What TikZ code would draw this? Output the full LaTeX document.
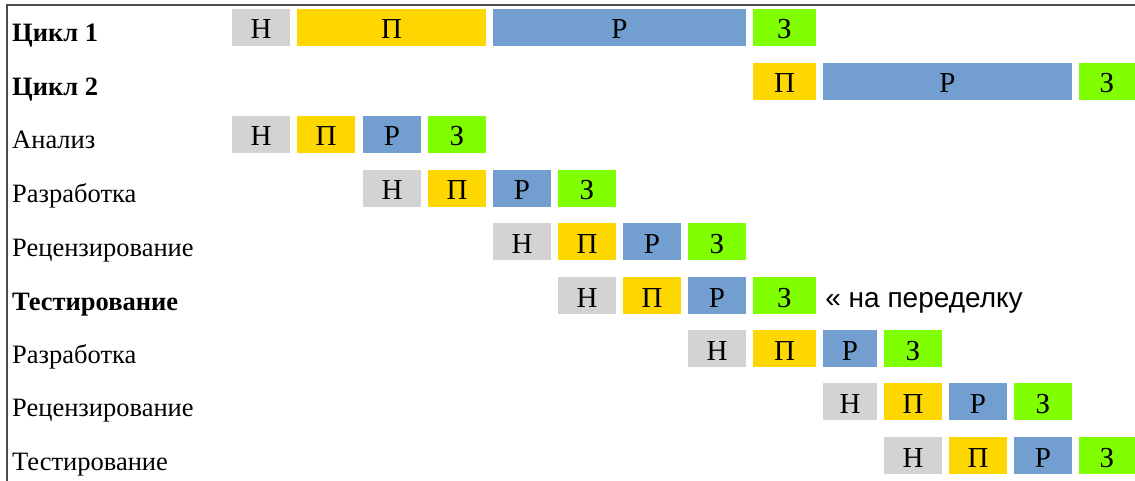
\documentclass[tikz,border=0pt]{standalone}
\usepackage{fontspec}
\setmainfont{Liberation Serif}
\newfontfamily\notefont{Liberation Sans}
\usepackage{xcolor}
\definecolor{ngray}{HTML}{D3D3D3}
\definecolor{pyellow}{HTML}{FFD700}
\definecolor{rblue}{HTML}{729FCF}
\definecolor{zgreen}{HTML}{7FFF00}
\tikzset{
  stage/.style={inner sep=0pt, minimum height=37pt, text height=23pt, text depth=0pt,
    font=\fontsize{29}{32}\selectfont},
  nach/.style={stage, fill=ngray},
  plan/.style={stage, fill=pyellow},
  rab/.style={stage, fill=rblue},
  zav/.style={stage, fill=zgreen},
  rowlabel/.style={anchor=base west, inner sep=0pt, font=\fontsize{26.5}{30}\selectfont},
  note/.style={anchor=base west, inner sep=0pt, font=\notefont\fontsize{28}{30}\selectfont},
  frame/.style={draw=black!70, line width=1.2pt},
}
% column edges and row tops (px)
\def\colL{{232,297,363,428,493,558,623,688,753,823,884,949,1014,1079}}
\def\colR{{290,355,421,486,551,616,681,746,816,877,942,1007,1072,1135}}
\def\rowT{{9,63,116,170,223,277,330,383,437}}
% name, row, first col, last col, style, text
\newcommand{\stagebox}[6]{%
  \pgfmathsetmacro\xa{\colL[#3]}%
  \pgfmathsetmacro\xb{\colR[#4]}%
  \pgfmathsetmacro\ya{\rowT[#2]+18.5}%
  \pgfmathsetmacro\bw{\xb-\xa}%
  \node[#5, minimum width=\bw pt] (#1) at ({(\xa+\xb)/2},\ya) {#6};%
}
\begin{document}
\begin{tikzpicture}[x=1pt, y=-1pt]
  \useasboundingbox (0,0) rectangle (1135,481);
  % frame
  \draw[frame] (7,481) |- (1135,5);
  % row labels
  \node[rowlabel] (lcycA)  at (12,42)  {\textbf{Цикл 1}};
  \node[rowlabel] (lcycB)  at (12,96)  {\textbf{Цикл 2}};
  \node[rowlabel] (lan)    at (12,149) {Анализ};
  \node[rowlabel] (ldevA)  at (12,203) {Разработка};
  \node[rowlabel] (lrevA)  at (12,256) {Рецензирование};
  \node[rowlabel] (ltestA) at (12,310) {\textbf{Тестирование}};
  \node[rowlabel] (ldevB)  at (12,363) {Разработка};
  \node[rowlabel] (lrevB)  at (12,416) {Рецензирование};
  \node[rowlabel] (ltestB) at (12,470) {Тестирование};
  % cycles
  \stagebox{cA-n}{0}{0}{0}{nach}{Н}
  \stagebox{cA-p}{0}{1}{3}{plan}{П}
  \stagebox{cA-r}{0}{4}{7}{rab}{Р}
  \stagebox{cA-z}{0}{8}{8}{zav}{З}
  \stagebox{cB-p}{1}{8}{8}{plan}{П}
  \stagebox{cB-r}{1}{9}{12}{rab}{Р}
  \stagebox{cB-z}{1}{13}{13}{zav}{З}
  % activities
  \foreach \r/\s/\id in {2/0/an, 3/2/dA, 4/4/rA, 5/5/tA, 6/7/dB, 7/9/rB, 8/10/tB} {
    \stagebox{\id-n}{\r}{\s}{\s}{nach}{Н}
    \stagebox{\id-p}{\r}{\s+1}{\s+1}{plan}{П}
    \stagebox{\id-r}{\r}{\s+2}{\s+2}{rab}{Р}
    \stagebox{\id-z}{\r}{\s+3}{\s+3}{zav}{З}
  }
  \node[note] (redo) at ([xshift=9pt,yshift=7pt]tA-z.south east) {« на переделку};
\end{tikzpicture}
\end{document}
